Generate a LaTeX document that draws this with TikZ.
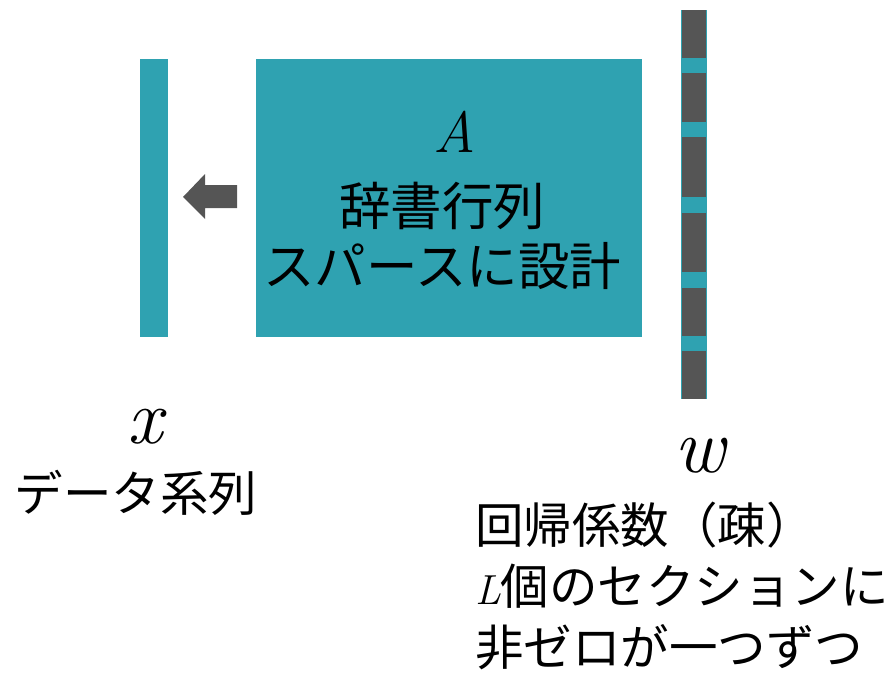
\documentclass[tikz,border=0pt]{standalone}
\usepackage{fontspec}
\setmainfont{Latin Modern Roman}
\newfontfamily\jp{Noto Sans CJK JP}
\definecolor{teal1}{HTML}{2FA2B1}
\definecolor{dgray}{HTML}{555555}
\tikzset{
  jptext/.style={font=\jp\fontsize{48.5}{61}\selectfont, inner sep=0pt},
  mathlbl/.style={font=\rmfamily\itshape\fontsize{78}{78}\selectfont, inner sep=0pt, anchor=base},
  tealbar/.style={fill=teal1, draw=none},
  seg/.style={fill=dgray, draw=none}
}
\begin{document}
\begin{tikzpicture}[x=1pt,y=-1pt]
\useasboundingbox (0,0) rectangle (890,674);
% x bar
\fill[tealbar] (140,59) rectangle (168,337);
% A box
\fill[tealbar] (256,59) rectangle (642,337);
% w bar
\fill[teal1] (681,10) rectangle (707,399);
\foreach \a/\b in {10/58, 73/122, 137/197, 213/272, 288/336, 351/399}
  \fill[seg] (682,\a) rectangle (706,\b);
% arrow
\fill[dgray] (183,197) -- (205,174) -- (205,185) -- (237,185) -- (237,208) -- (205,208) -- (205,219) -- cycle;
% labels
\node[mathlbl, font=\rmfamily\itshape\fontsize{58}{58}\selectfont] (A) at (455,152) {A};
\node[jptext, align=center, font=\jp\fontsize{51.5}{60}\selectfont] (Atxt) at (442,236) {辞書行列\\スパースに設計};
\node[mathlbl] (xl) at (145,443) {x};
\node[jptext] (xtxt) at (136,493) {データ系列};
\node[mathlbl] (wl) at (700,472) {w};
\node[jptext, align=left, anchor=west] (wtxt) at (475,586) {回帰係数（疎）\\{\rmfamily\itshape\fontsize{42}{61}\selectfont L}個のセクションに\\非ゼロが一つずつ};
\end{tikzpicture}
\end{document}
